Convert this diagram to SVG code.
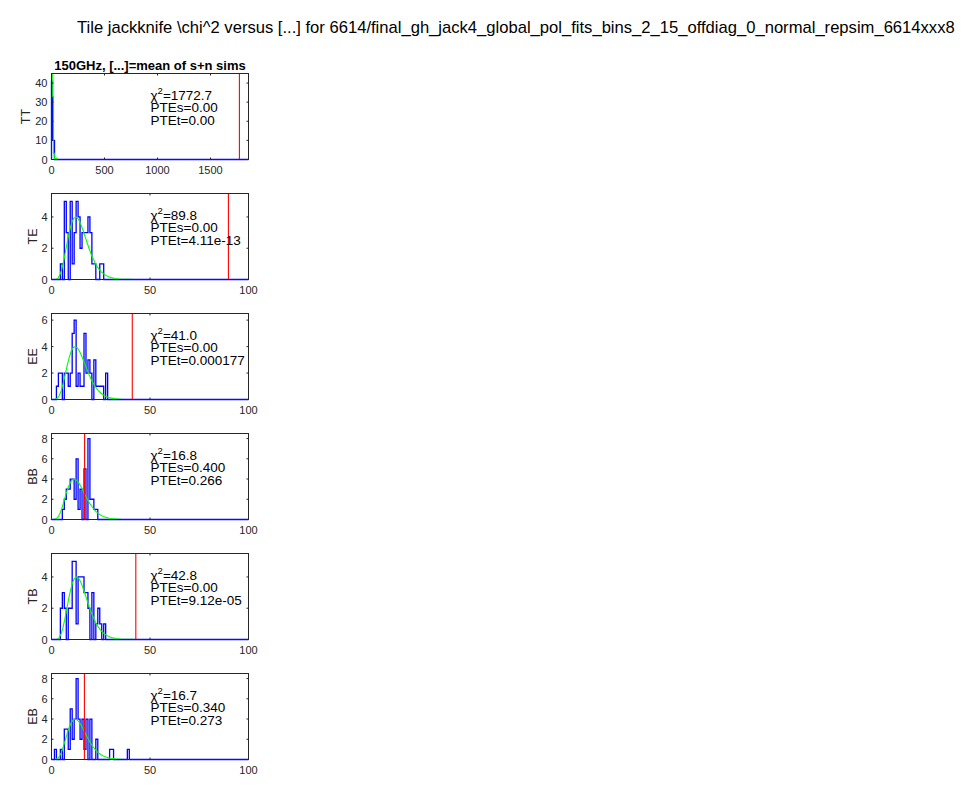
<svg xmlns="http://www.w3.org/2000/svg" xmlns:xlink="http://www.w3.org/1999/xlink" width="977" height="793" viewBox="0 0 977 793">
<style>
.box{fill:none;stroke:#262626;stroke-width:1}
.tk{fill:none;stroke:#262626;stroke-width:1}
.b{fill:none;stroke:#0000ff;stroke-width:1.3;vector-effect:non-scaling-stroke}
.g{fill:none;stroke:#00ff00;stroke-width:1.1;vector-effect:non-scaling-stroke}
.r{fill:none;stroke:#ff0000;stroke-width:1.1;vector-effect:non-scaling-stroke}
text{font-family:"Liberation Sans",Arial,Helvetica,sans-serif}
.tl{font-size:11px;fill:#262626}
.yl{text-anchor:end}
.xl{text-anchor:middle}
.lab{font-size:12.5px;fill:#262626;text-anchor:middle}
.ann{font-size:13.5px;fill:#000}
.sup{font-size:9.5px}
.ttl{font-size:16.6px;fill:#000}
.sub{font-size:13px;font-weight:bold;fill:#000;text-anchor:middle}
</style>
<defs>
<path id="gc" class="g" d="M0,0 L1,0 L2,0.013 L3,0.088 L4,0.30 L5,0.69 L6,1.26 L7,1.92 L8,2.60 L9,3.19 L10,3.64 L11,3.91 L12,4.00 L13,3.92 L14,3.71 L15,3.40 L16,3.04 L17,2.65 L18,2.27 L19,1.90 L20,1.57 L21,1.28 L22,1.02 L23,0.81 L24,0.635 L25,0.49 L26,0.377 L27,0.287 L28,0.216 L29,0.162 L30,0.12 L32,0.066 L34,0.035 L36,0.018 L40,0.005 L41,0"/>
</defs>
<rect width="977" height="793" fill="#ffffff"/>
<text class="ttl" x="77" y="33">Tile jackknife \chi^2 versus [...] for 6614/final_gh_jack4_global_pol_fits_bins_2_15_offdiag_0_normal_repsim_6614xxx8</text>

<g id="panel-TT">
<text class="sub" x="150" y="69.5">150GHz, [...]=mean of s+n sims</text>
<g id="data-TT" transform="translate(51.5,159.5) scale(0.106,-1.9111)">
<path class="b" d="M0,0 V41 H9.5 V10 H28.5 V0 H1858"/>
<path class="g" d="M0,0 V45 H12 V33 H19 V3.2 H26 V0.6 H50 V0 H60"/>
<path class="r" d="M1772.7,0 V45"/>
</g>
<rect class="box" x="51.5" y="73.5" width="197" height="86"/>
<path class="tk" d="M104.5,159.5v-2M157.5,159.5v-2M210.5,159.5v-2M104.5,73.5v2M157.5,73.5v2M210.5,73.5v2M51.5,140.39h2M51.5,121.28h2M51.5,102.17h2M51.5,83.06h2M248.5,140.39h-2M248.5,121.28h-2M248.5,102.17h-2M248.5,83.06h-2"/>
<g class="tl yl"><text x="47.5" y="163.5">0</text><text x="47.5" y="144.4">10</text><text x="47.5" y="125.3">20</text><text x="47.5" y="106.2">30</text><text x="47.5" y="87.1">40</text></g>
<g class="tl xl"><text x="51.5" y="173.5">0</text><text x="104.5" y="173.5">500</text><text x="157.5" y="173.5">1000</text><text x="210.5" y="173.5">1500</text></g>
<text class="lab" transform="translate(29.5,116.5) rotate(-90)">TT</text>
<text class="ann" x="150.5" y="100"><tspan>χ</tspan><tspan class="sup" dy="-6">2</tspan><tspan dy="6">=1772.7</tspan></text>
<text class="ann" x="150.5" y="112">PTEs=0.00</text>
<text class="ann" x="150.5" y="124.5">PTEt=0.00</text>
</g>

<g id="panel-TE" transform="translate(0,120)">
<g id="data-TE" transform="translate(51.5,159.5) scale(1.97,-15.636)">
<path class="b" d="M0,0 H4.5 V1 H5.5 V0 H6.5 V5 H7.5 V3 H8.5 V0 H9.5 V5 H10.5 V1 H11.5 V3 H12.5 V5 H13.5 V4 H14.5 V2 H15.5 V3 H18.5 V4 H19.5 V3 H20.5 V1 H22.5 V0 H24.5 V1 H26.5 V0 H100"/>
<use xlink:href="#gc" href="#gc" transform="translate(0.3,0)"/>
<path class="g" d="M41,0 H60.3"/>
<path class="r" d="M89.8,0 V5.5"/>
</g>
<rect class="box" x="51.5" y="73.5" width="197" height="86"/>
<path class="tk" d="M150,159.5v-2M150,73.5v2M51.5,128.23h2M51.5,96.95h2M248.5,128.23h-2M248.5,96.95h-2"/>
<g class="tl yl"><text x="47.5" y="163.5">0</text><text x="47.5" y="132.2">2</text><text x="47.5" y="101">4</text></g>
<g class="tl xl"><text x="51.5" y="173.5">0</text><text x="150" y="173.5">50</text><text x="248.5" y="173.5">100</text></g>
<text class="lab" transform="translate(37,116.5) rotate(-90)">TE</text>
<text class="ann" x="150.5" y="100"><tspan>χ</tspan><tspan class="sup" dy="-6">2</tspan><tspan dy="6">=89.8</tspan></text>
<text class="ann" x="150.5" y="112">PTEs=0.00</text>
<text class="ann" x="150.5" y="124.5">PTEt=4.11e-13</text>
</g>

<g id="panel-EE" transform="translate(0,240)">
<g id="data-EE" transform="translate(51.5,159.5) scale(1.97,-13.2308)">
<path class="b" d="M0,0 H2.5 V1 H3.5 V2 H5.5 V0 H6.5 V2 H8.5 V1 H9.5 V2 H10.5 V5 H11.5 V6 H12.5 V1 H13.5 V2 H14.5 V1 H16.5 V5 H17.5 V2 H18.5 V3 H19.5 V2 H20.5 V0 H21.5 V3 H22.5 V1 H26.5 V0 H27.5 V2 H28.5 V0 H100"/>
<use xlink:href="#gc" href="#gc"/>
<path class="g" d="M41,0 H61.5"/>
<path class="r" d="M41.0,0 V6.5"/>
</g>
<rect class="box" x="51.5" y="73.5" width="197" height="86"/>
<path class="tk" d="M150,159.5v-2M150,73.5v2M51.5,133.04h2M51.5,106.58h2M51.5,80.12h2M248.5,133.04h-2M248.5,106.58h-2M248.5,80.12h-2"/>
<g class="tl yl"><text x="47.5" y="163.5">0</text><text x="47.5" y="137">2</text><text x="47.5" y="110.6">4</text><text x="47.5" y="84.1">6</text></g>
<g class="tl xl"><text x="51.5" y="173.5">0</text><text x="150" y="173.5">50</text><text x="248.5" y="173.5">100</text></g>
<text class="lab" transform="translate(37,116.5) rotate(-90)">EE</text>
<text class="ann" x="150.5" y="100"><tspan>χ</tspan><tspan class="sup" dy="-6">2</tspan><tspan dy="6">=41.0</tspan></text>
<text class="ann" x="150.5" y="112">PTEs=0.00</text>
<text class="ann" x="150.5" y="124.5">PTEt=0.000177</text>
</g>

<g id="panel-BB" transform="translate(0,360)">
<g id="data-BB" transform="translate(51.5,159.5) scale(1.97,-10.1176)">
<path class="b" d="M0,0 H5.5 V1 H6.5 V2 H7.5 V3 H9.5 V4 H11.5 V2 H12.5 V6 H13.5 V1 H14.5 V3 H15.5 V0 H16.5 V5 H17.5 V0 H18.5 V8 H19.5 V2 H21.5 V1 H23.5 V0 H100"/>
<use xlink:href="#gc" href="#gc" transform="translate(-0.5,0)"/>
<path class="g" d="M40.5,0 H60"/>
<path class="r" d="M16.8,0 V8.5"/>
</g>
<rect class="box" x="51.5" y="73.5" width="197" height="86"/>
<path class="tk" d="M150,159.5v-2M150,73.5v2M51.5,139.26h2M51.5,119.03h2M51.5,98.79h2M51.5,78.56h2M248.5,139.26h-2M248.5,119.03h-2M248.5,98.79h-2M248.5,78.56h-2"/>
<g class="tl yl"><text x="47.5" y="163.5">0</text><text x="47.5" y="143.3">2</text><text x="47.5" y="123">4</text><text x="47.5" y="102.8">6</text><text x="47.5" y="82.6">8</text></g>
<g class="tl xl"><text x="51.5" y="173.5">0</text><text x="150" y="173.5">50</text><text x="248.5" y="173.5">100</text></g>
<text class="lab" transform="translate(37,116.5) rotate(-90)">BB</text>
<text class="ann" x="150.5" y="100"><tspan>χ</tspan><tspan class="sup" dy="-6">2</tspan><tspan dy="6">=16.8</tspan></text>
<text class="ann" x="150.5" y="112">PTEs=0.400</text>
<text class="ann" x="150.5" y="124.5">PTEt=0.266</text>
</g>

<g id="panel-TB" transform="translate(0,480)">
<g id="data-TB" transform="translate(51.5,159.5) scale(1.97,-15.636)">
<path class="b" d="M0,0 H4.5 V2 H5.5 V3 H6.5 V2 H7.5 V0 H8.5 V2 H10.5 V5 H12.5 V1 H13.5 V4 H16.5 V3 H18.5 V2 H19.5 V0 H20.5 V3 H21.5 V0 H22.5 V1 H23.5 V2 H24.5 V1 H25.5 V0 H26.5 V1 H27.5 V0 H100"/>
<use xlink:href="#gc" href="#gc" transform="translate(0.7,0)"/>
<path class="g" d="M41.7,0 H59.4"/>
<path class="r" d="M42.8,0 V5.5"/>
</g>
<rect class="box" x="51.5" y="73.5" width="197" height="86"/>
<path class="tk" d="M150,159.5v-2M150,73.5v2M51.5,128.23h2M51.5,96.95h2M248.5,128.23h-2M248.5,96.95h-2"/>
<g class="tl yl"><text x="47.5" y="163.5">0</text><text x="47.5" y="132.2">2</text><text x="47.5" y="101">4</text></g>
<g class="tl xl"><text x="51.5" y="173.5">0</text><text x="150" y="173.5">50</text><text x="248.5" y="173.5">100</text></g>
<text class="lab" transform="translate(37,116.5) rotate(-90)">TB</text>
<text class="ann" x="150.5" y="100"><tspan>χ</tspan><tspan class="sup" dy="-6">2</tspan><tspan dy="6">=42.8</tspan></text>
<text class="ann" x="150.5" y="112">PTEs=0.00</text>
<text class="ann" x="150.5" y="124.5">PTEt=9.12e-05</text>
</g>

<g id="panel-EB" transform="translate(0,600)">
<g id="data-EB" transform="translate(51.5,159.5) scale(1.97,-10.1176)">
<path class="b" d="M0,0 H1.5 V1 H2.5 V0 H4.5 V1 H5.5 V0 H6.5 V3 H8.5 V1 H9.5 V5 H10.5 V2 H11.5 V4 H12.5 V8 H13.5 V4 H14.5 V2 H15.5 V4 H16.5 V1 H17.5 V4 H18.5 V0 H19.5 V4 H20.5 V0 H22.5 V2 H23.5 V0 H29.5 V1 H31.5 V0 H38.5 V1 H39.5 V0 H100"/>
<use xlink:href="#gc" href="#gc"/>
<path class="g" d="M41,0 H57.5"/>
<path class="r" d="M16.7,0 V8.5"/>
</g>
<rect class="box" x="51.5" y="73.5" width="197" height="86"/>
<path class="tk" d="M150,159.5v-2M150,73.5v2M51.5,139.26h2M51.5,119.03h2M51.5,98.79h2M51.5,78.56h2M248.5,139.26h-2M248.5,119.03h-2M248.5,98.79h-2M248.5,78.56h-2"/>
<g class="tl yl"><text x="47.5" y="163.5">0</text><text x="47.5" y="143.3">2</text><text x="47.5" y="123">4</text><text x="47.5" y="102.8">6</text><text x="47.5" y="82.6">8</text></g>
<g class="tl xl"><text x="51.5" y="173.5">0</text><text x="150" y="173.5">50</text><text x="248.5" y="173.5">100</text></g>
<text class="lab" transform="translate(37,116.5) rotate(-90)">EB</text>
<text class="ann" x="150.5" y="100"><tspan>χ</tspan><tspan class="sup" dy="-6">2</tspan><tspan dy="6">=16.7</tspan></text>
<text class="ann" x="150.5" y="112">PTEs=0.340</text>
<text class="ann" x="150.5" y="124.5">PTEt=0.273</text>
</g>
</svg>
